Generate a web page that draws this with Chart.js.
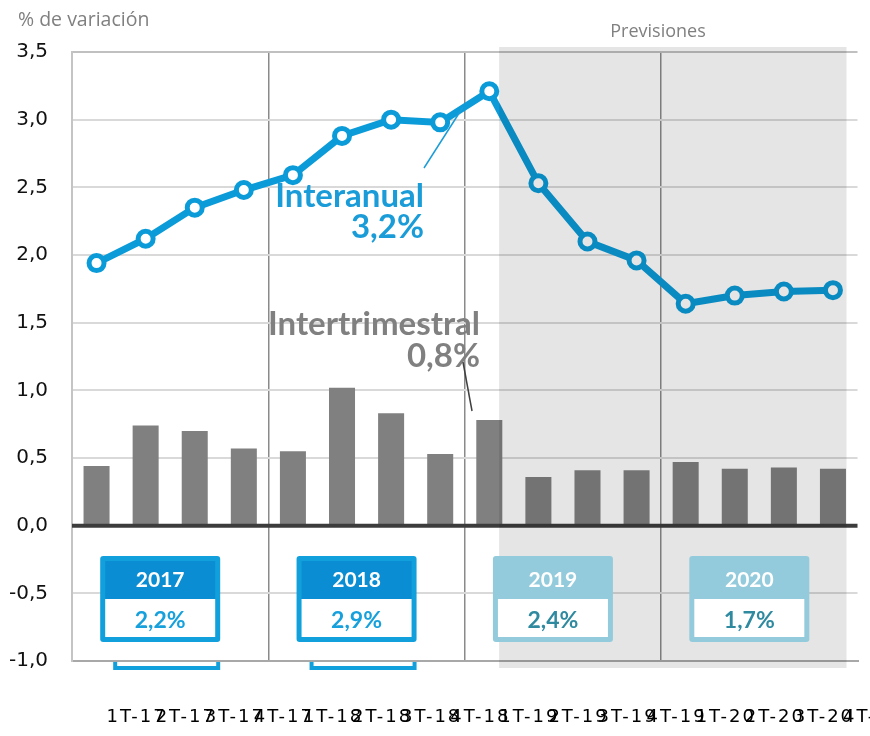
<!DOCTYPE html>
<html>
<head>
<meta charset="utf-8">
<script src="https://cdn.jsdelivr.net/npm/chart.js@4"></script>
<style>
  html, body { margin: 0; padding: 0; background: #ffffff; overflow: hidden; }
  canvas { display: block; }
</style>
</head>
<body>
<canvas id="c" width="870" height="736"></canvas>
<script>
const quarters = ['1T-17','2T-17','3T-17','4T-17','1T-18','2T-18','3T-18','4T-18','1T-19','2T-19','3T-19','4T-19','1T-20','2T-20','3T-20','4T-20'];
const interanual = [1.94, 2.12, 2.35, 2.48, 2.59, 2.88, 3.00, 2.98, 3.21, 2.53, 2.10, 1.96, 1.64, 1.70, 1.73, 1.74];
const intertrimestral = [0.44, 0.74, 0.70, 0.57, 0.55, 1.02, 0.83, 0.53, 0.78, 0.36, 0.41, 0.41, 0.47, 0.42, 0.43, 0.42];
const years = ['2017', '2018', '2019', '2020'];
const annualGrowth = ['2,2%', '2,9%', '2,4%', '1,7%'];
const forecastYears = [false, false, true, true];
const yMin = -1.0, yMax = 3.5, yStep = 0.5;

const BLUE = '#0a9bd8';
const GRAY_BAR = '#808080';

function rr(ctx, x, y, w, h, r) {
  ctx.beginPath();
  ctx.moveTo(x + r, y);
  ctx.lineTo(x + w - r, y);
  ctx.quadraticCurveTo(x + w, y, x + w, y + r);
  ctx.lineTo(x + w, y + h - r);
  ctx.quadraticCurveTo(x + w, y + h, x + w - r, y + h);
  ctx.lineTo(x + r, y + h);
  ctx.quadraticCurveTo(x, y + h, x, y + h - r);
  ctx.lineTo(x, y + r);
  ctx.quadraticCurveTo(x, y, x + r, y);
  ctx.closePath();
}

const decor = {
  id: 'decor',
  afterDatasetsDraw(chart) {
    const ctx = chart.ctx;
    const xs = chart.scales.x, ys = chart.scales.y;
    const area = chart.chartArea;
    const step = xs.getPixelForValue(1) - xs.getPixelForValue(0);
    // zero line
    ctx.save();
    const y0 = ys.getPixelForValue(0);
    ctx.strokeStyle = '#3c3c3c';
    ctx.lineWidth = 4;
    ctx.beginPath();
    ctx.moveTo(area.left, y0);
    ctx.lineTo(area.right, y0);
    ctx.stroke();
    ctx.restore();
    // forecast shading (multiply)
    ctx.save();
    ctx.globalCompositeOperation = 'multiply';
    ctx.fillStyle = '#e5e5e5';
    const sx = xs.getPixelForValue(8) + step * 0.2;
    const ex = area.right - 11;
    ctx.fillRect(sx, area.top - 5, ex - sx, area.bottom - area.top + 12);
    ctx.restore();
    // spacing for x tick labels (drawn right after this hook)
    ctx.letterSpacing = '2px';
  },
  afterDraw(chart) {
    const ctx = chart.ctx;
    ctx.letterSpacing = '0px';
    const xs = chart.scales.x;
    const area = chart.chartArea;
    ctx.save();
    // titles
    ctx.fillStyle = '#808080';
    ctx.font = '19.5px "Open Sans"';
    ctx.textAlign = 'left';
    ctx.textBaseline = 'alphabetic';
    ctx.fillText('% de variación', 18, 26);
    ctx.font = '18px "Open Sans"';
    ctx.textAlign = 'center';
    ctx.fillText('Previsiones', 658, 37);

    // year boxes
    for (let i = 0; i < years.length; i++) {
      const c = (xs.getPixelForValue(4 * i) + xs.getPixelForValue(4 * i + 3)) / 2 - 10;
      const bx = c - 60, by = area.bottom - 105, bw = 120, bh = 86;
      const fc = forecastYears[i];
      const outer = fc ? '#93cbdc' : '#12a0dc';
      const head = fc ? '#93cbdc' : '#0a8dd2';
      const valCol = fc ? '#2f8aa0' : '#16a0dc';
      if (!fc) {
        ctx.fillStyle = outer;
        ctx.fillRect(bx + 13, area.bottom + 1, 107, 8);
        ctx.fillStyle = '#ffffff';
        ctx.fillRect(bx + 17, area.bottom + 1, 99, 4);
      }
      ctx.fillStyle = outer;
      rr(ctx, bx, by, bw, bh, 3);
      ctx.fill();
      ctx.fillStyle = head;
      ctx.fillRect(bx + 5, by + 5, bw - 10, 38);
      ctx.fillStyle = '#ffffff';
      ctx.fillRect(bx + 5, by + 43, bw - 10, 38);
      ctx.textAlign = 'center';
      ctx.fillStyle = '#ffffff';
      ctx.font = 'bold 21px Lato';
      ctx.fillText(years[i], c, by + 31);
      ctx.fillStyle = valCol;
      ctx.font = 'bold 23px Lato';
      ctx.fillText(annualGrowth[i], c, by + 72);
    }

    // Interanual label
    ctx.textAlign = 'right';
    ctx.fillStyle = '#1a9cd8';
    ctx.font = 'bold 33px Lato';
    ctx.fillText('Interanual', 424, 207);
    ctx.fillText('3,2%', 424, 238);
    ctx.strokeStyle = '#1a9cd8';
    ctx.lineWidth = 1.5;
    ctx.beginPath();
    ctx.moveTo(424, 168);
    ctx.lineTo(463, 107);
    ctx.stroke();

    // Intertrimestral label
    ctx.fillStyle = '#808080';
    ctx.font = 'bold 33px Lato';
    ctx.fillText('Intertrimestral', 480, 335);
    ctx.fillText('0,8%', 480, 367);
    ctx.strokeStyle = '#404040';
    ctx.lineWidth = 1.5;
    ctx.beginPath();
    ctx.moveTo(463, 362);
    ctx.lineTo(472, 411);
    ctx.stroke();
    ctx.restore();
  }
};

const chart = new Chart(document.getElementById('c'), {
  type: 'bar',
  data: {
    labels: quarters,
    datasets: [
      {
        type: 'line',
        label: 'Interanual',
        data: interanual,
        order: 0,
        borderColor: BLUE,
        borderWidth: 7,
        tension: 0,
        pointRadius: 7.5,
        pointHoverRadius: 7.5,
        pointBorderWidth: 5,
        pointBackgroundColor: '#ffffff',
        pointBorderColor: BLUE,
        clip: false
      },
      {
        type: 'bar',
        label: 'Intertrimestral',
        data: intertrimestral,
        order: 1,
        backgroundColor: GRAY_BAR,
        borderWidth: 0,
        barPercentage: 0.53,
        categoryPercentage: 1.0
      }
    ]
  },
  options: {
    responsive: false,
    animation: false,
    devicePixelRatio: 1,
    layout: { padding: { left: 0, right: 12, top: 52, bottom: 0 } },
    plugins: { legend: { display: false }, tooltip: { enabled: false } },
    scales: {
      x: {
        offset: true,
        grid: {
          offset: true,
          drawTicks: false,
          color: (c) => (c.index === 4 || c.index === 8 || c.index === 12) ? '#8a8a8a' : (c.index === 16 ? '#c0c0c0' : 'rgba(0,0,0,0)'),
          lineWidth: (c) => (c.index === 4 || c.index === 8 || c.index === 12) ? 1.5 : 2
        },
        border: { color: '#a8a8a8', width: 2 },
        ticks: {
          z: 1,
          color: '#000000',
          font: { family: '"DejaVu Sans"', size: 18 },
          align: 'start',
          labelOffset: 10,
          padding: 46,
          autoSkip: false,
          maxRotation: 0,
          minRotation: 0
        },
        afterFit: (s) => { s.height = 75; s.paddingLeft = 0; s.paddingRight = 0; }
      },
      y: {
        min: yMin,
        max: yMax,
        grid: {
          drawTicks: false,
          color: (c) => {
            const v = c.tick ? c.tick.value : null;
            if (v === 0 || v === yMin) return 'rgba(0,0,0,0)';
            if (v === yMax) return '#c0c0c0';
            return '#d9d9d9';
          },
          lineWidth: 2
        },
        border: { color: '#c4c4c4', width: 2 },
        ticks: {
          stepSize: yStep,
          color: '#111111',
          font: { family: '"DejaVu Sans"', size: 20 },
          padding: 24,
          callback: (v) => Number(v).toFixed(1).replace('.', ',')
        },
        afterFit: (s) => { s.width = 72; }
      }
    }
  },
  plugins: [decor]
});
</script>
</body>
</html>
